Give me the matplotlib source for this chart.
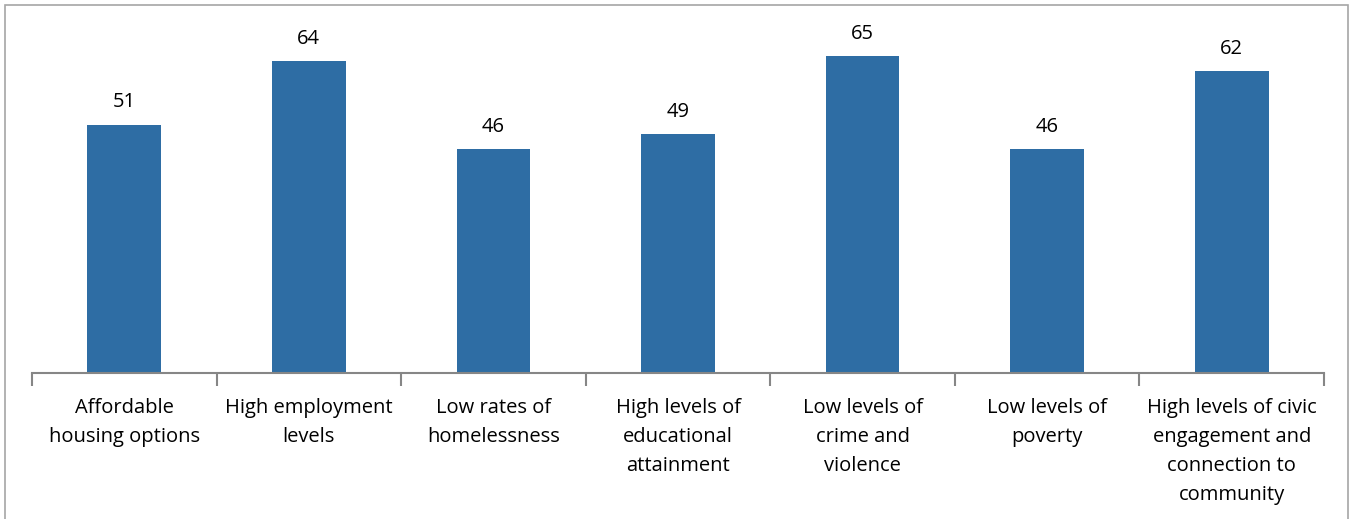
import numpy as np
import matplotlib.pyplot as plt
from matplotlib.patches import Rectangle

categories = ["Affordable\nhousing options", "High employment\nlevels", "Low rates of\nhomelessness",
              "High levels of\neducational\nattainment", "Low levels of\ncrime and\nviolence",
              "Low levels of\npoverty", "High levels of civic\nengagement and\nconnection to\ncommunity"]
values = [51, 64, 46, 49, 65, 46, 62]

plt.rcParams['font.family'] = ['Open Sans', 'DejaVu Sans']

fig = plt.figure(figsize=(13.5, 5.19), dpi=100)
ax = fig.add_axes([32/1350, 1 - 373/519, (1324-32)/1350, (373-32)/519])

x = np.arange(len(values))
bars = ax.bar(x, values, width=0.4, color='#2E6DA4')

# value labels above bars
for xi, v in zip(x, values):
    ax.text(xi, v + 2.5, str(v), ha='center', va='bottom', fontsize=14.5, color='black', clip_on=False)

ax.set_xlim(-0.5, len(values) - 0.5)
ax.set_ylim(0, 70)
ax.set_yticks([])

# category labels between boundary ticks
ax.set_xticks(np.arange(-0.5, len(values)), minor=False)
ax.set_xticklabels([])
ax.tick_params(axis='x', direction='out', length=9, width=1.5, color='#868686')
for xi, lab in zip(x, categories):
    ax.text(xi, -5.2, lab, ha='center', va='top', fontsize=14.5, linespacing=1.6,
            transform=ax.transData, clip_on=False)

for s in ['top', 'right', 'left']:
    ax.spines[s].set_visible(False)
ax.spines['bottom'].set_color('#868686')
ax.spines['bottom'].set_linewidth(1.5)

# chart border
fig.patches.append(Rectangle((5/1350, -0.1), (1348-5)/1350, 1.1 - 5/519, transform=fig.transFigure,
                             fill=False, edgecolor='#A6A6A6', linewidth=1.2))

fig.savefig('out.png', dpi=100)
